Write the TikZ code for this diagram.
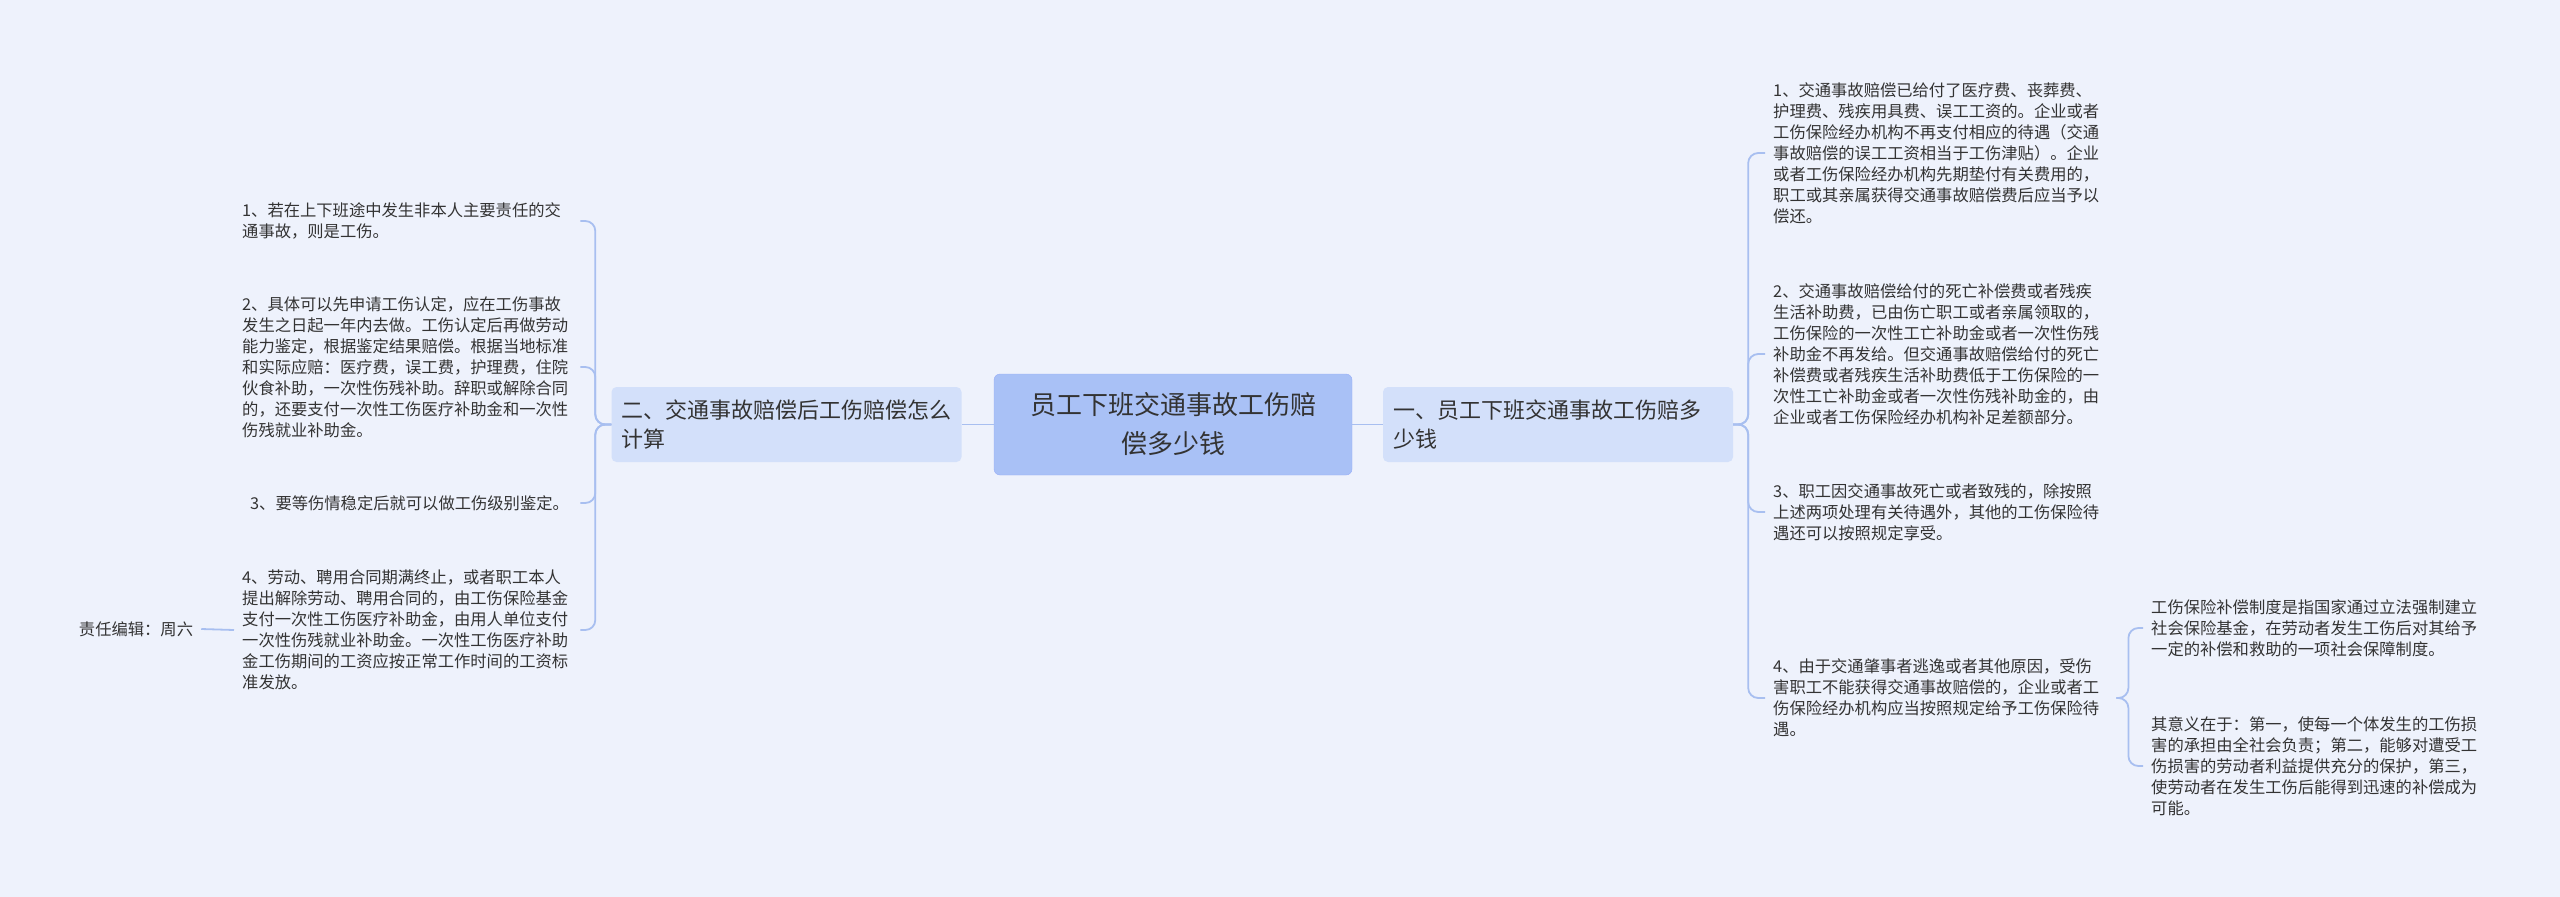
\documentclass[tikz,border=0pt]{standalone}
\usepackage{fontspec}
\setmainfont{Noto Sans CJK SC}
\begin{document}
\begin{tikzpicture}[x=1pt,y=-1pt,
  conn/.style={draw=linec,line width=1.8pt,rounded corners=10pt},
  leaf/.style={inner sep=8pt,align=left,text=txt,font=\fontsize{16.3}{21}\selectfont},
  lone/.style={rounded corners=5pt,minimum height=75pt,inner xsep=10pt,align=left,text=txt,font=\fontsize{22}{29}\selectfont}]
\definecolor{bg}{HTML}{EEF2FC}
\definecolor{linec}{HTML}{A8BFF0}
\definecolor{txt}{HTML}{333333}
\definecolor{cfill}{HTML}{A9C1F6}
\definecolor{lfill}{HTML}{D3E0FA}
\fill[bg] (0,0) rectangle (2560,897);
\useasboundingbox (0,0) rectangle (2560,897);
\node[rounded corners=6pt,fill=cfill,draw=cfill!90!blue,minimum width=358pt,minimum height=101pt,align=center,text=txt,font=\fontsize{26}{39}\selectfont] (c) at (1173,424.5) {员工下班交通事故工伤赔\\偿多少钱};
\node[lone,fill=lfill,text width=330pt] (rl) at (1558,424.5) {一、员工下班交通事故工伤赔多\\少钱};
\node[lone,fill=lfill,text width=330pt] (ll) at (786.5,424.5) {二、交通事故赔偿后工伤赔偿怎么\\计算};
% right leaves
\node[leaf,anchor=west,text width=335pt] (r1) at (1765,153) {1、交通事故赔偿已给付了医疗费、丧葬费、\\护理费、残疾用具费、误工工资的。企业或者\\工伤保险经办机构不再支付相应的待遇（交通\\事故赔偿的误工工资相当于工伤津贴）。企业\\或者工伤保险经办机构先期垫付有关费用的，\\职工或其亲属获得交通事故赔偿费后应当予以\\偿还。};
\node[leaf,anchor=west,text width=335pt] (r2) at (1765,354) {2、交通事故赔偿给付的死亡补偿费或者残疾\\生活补助费，已由伤亡职工或者亲属领取的，\\工伤保险的一次性工亡补助金或者一次性伤残\\补助金不再发给。但交通事故赔偿给付的死亡\\补偿费或者残疾生活补助费低于工伤保险的一\\次性工亡补助金或者一次性伤残补助金的，由\\企业或者工伤保险经办机构补足差额部分。};
\node[leaf,anchor=west,text width=335pt] (r3) at (1765,512) {3、职工因交通事故死亡或者致残的，除按照\\上述两项处理有关待遇外，其他的工伤保险待\\遇还可以按照规定享受。};
\node[leaf,anchor=west,text width=335pt] (r4) at (1765,698) {4、由于交通肇事者逃逸或者其他原因，受伤\\害职工不能获得交通事故赔偿的，企业或者工\\伤保险经办机构应当按照规定给予工伤保险待\\遇。};
\node[leaf,anchor=west,text width=335pt] (s1) at (2143,628) {工伤保险补偿制度是指国家通过立法强制建立\\社会保险基金，在劳动者发生工伤后对其给予\\一定的补偿和救助的一项社会保障制度。};
\node[leaf,anchor=west,text width=335pt] (s2) at (2143,766) {其意义在于：第一，使每一个体发生的工伤损\\害的承担由全社会负责；第二，能够对遭受工\\伤损害的劳动者利益提供充分的保护，第三，\\使劳动者在发生工伤后能得到迅速的补偿成为\\可能。};
% left leaves
\node[leaf,anchor=west,text width=330pt] (l1) at (234,221) {1、若在上下班途中发生非本人主要责任的交\\通事故，则是工伤。};
\node[leaf,anchor=west,text width=330pt] (l2) at (234,367) {2、具体可以先申请工伤认定，应在工伤事故\\发生之日起一年内去做。工伤认定后再做劳动\\能力鉴定，根据鉴定结果赔偿。根据当地标准\\和实际应赔：医疗费，误工费，护理费，住院\\伙食补助，一次性伤残补助。辞职或解除合同\\的，还要支付一次性工伤医疗补助金和一次性\\伤残就业补助金。};
\node[leaf,anchor=west,text width=330pt] (l3) at (234,503) {\hspace{8pt}3、要等伤情稳定后就可以做工伤级别鉴定。};
\node[leaf,anchor=west,text width=330pt] (l4) at (234,630) {4、劳动、聘用合同期满终止，或者职工本人\\提出解除劳动、聘用合同的，由工伤保险基金\\支付一次性工伤医疗补助金，由用人单位支付\\一次性伤残就业补助金。一次性工伤医疗补助\\金工伤期间的工资应按正常工作时间的工资标\\准发放。};
\node[leaf,anchor=center] (ed) at (136,629) {责任编辑：周六};
% connectors
\draw[conn] (c.east) -- (rl.west);
\draw[conn] (c.west) -- (ll.east);
\foreach \n in {r1,r2,r3,r4} \draw[conn] (rl.east) -- ++(15,0) |- (\n.west);
\foreach \n in {s1,s2} \draw[conn] (r4.east) -- ++(12,0) |- (\n.west);
\foreach \n in {l1,l2,l3,l4} \draw[conn] (ll.west) -- ++(-16,0) |- (\n.east);
\draw[conn] (l4.west) -- (ed.east);
\end{tikzpicture}
\end{document}
